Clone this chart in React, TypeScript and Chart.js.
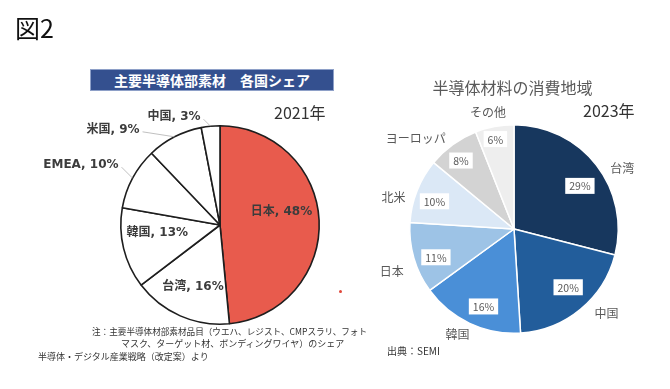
import React, { useEffect, useRef } from "react";
import { Chart, registerables } from "chart.js";

Chart.register(...registerables);

const W = 670;
const H = 389;

// ---- Left chart: 主要半導体部素材 各国シェア (2021年)
const shareCategories = ["日本", "台湾", "韓国", "EMEA", "米国", "中国"];
const shareValues = [48, 16, 13, 10, 9, 3];
const shareColors = ["#e85b4d", "#ffffff", "#ffffff", "#ffffff", "#ffffff", "#ffffff"];

// ---- Right chart: 半導体材料の消費地域 (2023年)
const consumptionCategories = ["台湾", "中国", "韓国", "日本", "北米", "ヨーロッパ", "その他"];
const consumptionValues = [29, 20, 16, 11, 10, 8, 6];
const consumptionColors = ["#17375e", "#225d9b", "#4a8fd7", "#9dc3e6", "#dbe8f6", "#d3d3d3", "#eeeeee"];

const noteLines = [
  "注：主要半導体材部素材品目（ウエハ、レジスト、CMPスラリ、フォト",
  "マスク、ターゲット材、ボンディングワイヤ）のシェア",
];
const sourceLeft = "半導体・デジタル産業戦略（改定案）より";
const sourceRight = "出典：SEMI";

type Place = { r: number; dx: number; dy: number; outside?: boolean };

// label placement (relative to each slice's mid-angle)
const sharePlaces: Place[] = [
  { r: 0.62, dx: 0, dy: -10 },
  { r: 0.68, dx: 0, dy: 0 },
  { r: 0.65, dx: 0, dy: -7 },
  { r: 1, dx: -14, dy: -13, outside: true },
  { r: 1, dx: -35, dy: -7, outside: true },
  { r: 1, dx: -10, dy: -9, outside: true },
];
const valuePlaces = [
  { dx: 0, dy: 8 },
  { dx: 1, dy: -6 },
  { dx: 5, dy: 2 },
  { dx: 2, dy: 5 },
  { dx: -2, dy: 3 },
  { dx: -4, dy: -1 },
  { dx: -3, dy: -8 },
];
const namePlaces = [
  { dx: 11, dy: 15 },
  { dx: 14, dy: -10 },
  { dx: -4, dy: -6 },
  { dx: -4, dy: 8 },
  { dx: -6, dy: 14 },
  { dx: -26, dy: 9 },
  { dx: -3, dy: 4 },
];

const shareLabelPlugin = {
  id: "shareLabels",
  afterDatasetsDraw(chart: any) {
    const ctx = chart.ctx as CanvasRenderingContext2D;
    const meta = chart.getDatasetMeta(0);
    const labels = chart.data.labels as string[];
    const values = chart.data.datasets[0].data as number[];
    meta.data.forEach((arc: any, i: number) => {
      const { x, y, startAngle, endAngle, outerRadius } = arc.getProps(
        ["x", "y", "startAngle", "endAngle", "outerRadius"],
        true
      );
      const mid = (startAngle + endAngle) / 2;
      const ux = Math.cos(mid);
      const uy = Math.sin(mid);
      const p = sharePlaces[i];
      const text = `${labels[i]}, ${values[i]}%`;
      ctx.save();
      ctx.font = 'bold 12px "DejaVu Sans", "Noto Sans CJK JP", sans-serif';
      ctx.fillStyle = "#3c3c3c";
      ctx.textBaseline = "middle";
      if (!p.outside) {
        ctx.textAlign = "center";
        ctx.fillText(text, x + ux * outerRadius * p.r + p.dx, y + uy * outerRadius * p.r + p.dy);
      } else {
        const ex = x + ux * outerRadius;
        const ey = y + uy * outerRadius;
        const tx = ex + p.dx;
        const ty = ey + p.dy;
        ctx.textAlign = "right";
        ctx.fillText(text, tx, ty);
        ctx.strokeStyle = "#b0b0b0";
        ctx.lineWidth = 0.8;
        ctx.beginPath();
        ctx.moveTo(tx + 3, ty + 2);
        ctx.lineTo(ex, ey);
        ctx.stroke();
      }
      ctx.restore();
    });
  },
};

const consumptionLabelPlugin = {
  id: "consumptionLabels",
  afterDatasetsDraw(chart: any) {
    const ctx = chart.ctx as CanvasRenderingContext2D;
    const meta = chart.getDatasetMeta(0);
    const labels = chart.data.labels as string[];
    const values = chart.data.datasets[0].data as number[];
    meta.data.forEach((arc: any, i: number) => {
      const { x, y, startAngle, endAngle, outerRadius } = arc.getProps(
        ["x", "y", "startAngle", "endAngle", "outerRadius"],
        true
      );
      const mid = (startAngle + endAngle) / 2;
      const ux = Math.cos(mid);
      const uy = Math.sin(mid);
      ctx.save();
      // value box
      const vp = valuePlaces[i];
      const vx = x + ux * outerRadius * 0.8 + vp.dx;
      const vy = y + uy * outerRadius * 0.8 + vp.dy;
      const vText = `${values[i]}%`;
      ctx.font = '10.5px "Noto Sans CJK JP", sans-serif';
      const tw = ctx.measureText(vText).width;
      ctx.fillStyle = "#ffffff";
      ctx.fillRect(vx - tw / 2 - 4, vy - 8, tw + 8, 16);
      ctx.fillStyle = "#595959";
      ctx.textAlign = "center";
      ctx.textBaseline = "middle";
      ctx.fillText(vText, vx, vy + 0.5);
      // category name
      const np = namePlaces[i];
      const nx = x + ux * outerRadius * 1.18 + np.dx;
      const ny = y + uy * outerRadius * 1.18 + np.dy;
      ctx.font = '12px "Noto Sans CJK JP", sans-serif';
      ctx.fillStyle = "#595959";
      ctx.fillText(labels[i], nx, ny);
      ctx.restore();
    });
  },
};

const abs = (left: number, top: number, extra: React.CSSProperties = {}): React.CSSProperties => ({
  position: "absolute",
  left,
  top,
  whiteSpace: "nowrap",
  fontFamily: '"Noto Sans CJK JP", sans-serif',
  lineHeight: 1,
  ...extra,
});

export default function App() {
  const leftRef = useRef<HTMLCanvasElement>(null);
  const rightRef = useRef<HTMLCanvasElement>(null);

  useEffect(() => {
    const left = new Chart(leftRef.current!, {
      type: "pie",
      data: {
        labels: shareCategories,
        datasets: [
          {
            data: shareValues,
            backgroundColor: shareColors,
            borderColor: "#1e1e1e",
            borderWidth: 1.6,
          },
        ],
      },
      options: {
        responsive: false,
        animation: false,
        events: [],
        layout: { padding: { left: 120, top: 125, right: 350, bottom: 64 } },
        plugins: { legend: { display: false }, tooltip: { enabled: false } },
      },
      plugins: [shareLabelPlugin],
    });
    const right = new Chart(rightRef.current!, {
      type: "pie",
      data: {
        labels: consumptionCategories,
        datasets: [
          {
            data: consumptionValues,
            backgroundColor: consumptionColors,
            borderColor: "#ffffff",
            borderWidth: 1.5,
          },
        ],
      },
      options: {
        responsive: false,
        animation: false,
        events: [],
        layout: { padding: { left: 409, top: 124, right: 51, bottom: 55 } },
        plugins: { legend: { display: false }, tooltip: { enabled: false } },
      },
      plugins: [consumptionLabelPlugin],
    });
    return () => {
      left.destroy();
      right.destroy();
    };
  }, []);

  return (
    <div
      style={{
        position: "fixed",
        left: 0,
        top: 0,
        width: W,
        height: H,
        background: "#ffffff",
        overflow: "hidden",
      }}
    >
      <canvas ref={leftRef} width={W} height={H} style={{ position: "absolute", left: 0, top: 0 }} />
      <canvas ref={rightRef} width={W} height={H} style={{ position: "absolute", left: 0, top: 0 }} />

      <div style={abs(15, 15, { fontSize: 25, color: "#111" })}>図2</div>

      <div
        style={abs(90, 69, {
          width: 244,
          height: 22,
          background: "#34508f",
          border: "1px solid #8ea0c8",
          boxSizing: "border-box",
          color: "#fff",
          fontWeight: 700,
          fontSize: 14,
          display: "flex",
          alignItems: "center",
          justifyContent: "center",
        })}
      >
        主要半導体部素材　各国シェア
      </div>
      <div style={abs(274, 104, { fontSize: 16, color: "#333" })}>2021年</div>

      <div style={abs(92, 327, { fontSize: 8.6, color: "#333" })}>{noteLines[0]}</div>
      <div style={abs(121, 339, { fontSize: 9, color: "#333" })}>{noteLines[1]}</div>
      <div style={abs(38, 352, { fontSize: 9, color: "#333" })}>{sourceLeft}</div>

      <div style={{ position: "absolute", left: 339, top: 290, width: 3, height: 3, borderRadius: 2, background: "#e0463a" }} />

      <div style={abs(432, 79, { fontSize: 16, color: "#595959", width: 161, textAlign: "center" })}>
        半導体材料の消費地域
      </div>
      <div style={abs(583, 102, { fontSize: 16, color: "#333" })}>2023年</div>
      <div style={abs(387, 346, { fontSize: 10, color: "#333" })}>{sourceRight}</div>
    </div>
  );
}
